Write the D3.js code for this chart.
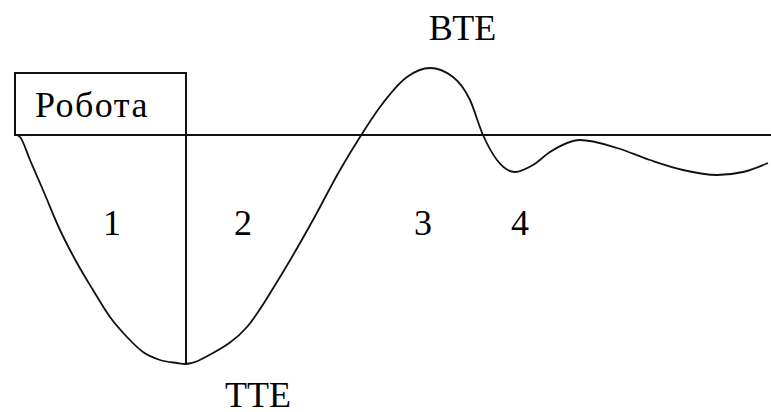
<!DOCTYPE html>
<html>
<head>
<meta charset="utf-8">
<script src="https://cdn.jsdelivr.net/npm/d3@7"></script>
<style>
@font-face { font-family: "SerifLocal"; src: local("Liberation Serif"), local("LiberationSerif-Regular"), local("LiberationSerif"); }
</style>
</head>
<body style="margin:0">
<svg id="chart" width="771" height="412"></svg>
<script>
// Curve: time position (t) and amplitude above the baseline (a)
const curveT = [17, 20, 30, 43, 60, 77, 93, 110, 127, 143, 160, 177, 185, 213, 247, 280, 313, 340, 360, 380, 407, 430, 453, 470, 483, 497, 515, 533, 550, 580, 617, 650, 683, 717, 743, 768];
const curveA = [0, -2, -25, -55, -95, -128, -155, -182, -202, -217, -225, -228, -229, -218, -192, -142, -85, -35, -2, 28, 58, 67, 58, 35, 0, -25, -37, -30, -17, -5, -13, -25, -35, -40, -37, -28];

// Labels
const boxLabel = "Робота";
const phaseLabels = ["1", "2", "3", "4"];
const phaseT = [112, 243, 423, 520];
const peakLabel = "ВТЕ";
const troughLabel = "ТТЕ";

// Scales (pixel units along each axis)
const x = d3.scaleLinear().domain([0, 771]).range([0, 771]);
const y = d3.scaleLinear().domain([0, 100]).range([135, 35]);

const svg = d3.select("#chart");

// Text labels: [text, x, y, anchor, letter-spacing]
const labels = [
  [boxLabel, 35, 117, "start", 1.3],
  ...phaseLabels.map((d, i) => [d, phaseT[i], 235, "middle", 0]),
  [peakLabel, 462.5, 40, "middle", 0],
  [troughLabel, 258, 407, "middle", 0]
];

svg.selectAll("text").data(labels).join("text")
  .attr("transform", d => `translate(${x(d[1])},${d[2]}) scale(1.125)`)
  .attr("text-anchor", d => d[3])
  .attr("font-size", 32)
  .style("font-family", `"Liberation Serif", "SerifLocal", "Tinos", "Times New Roman", serif`)
  .style("letter-spacing", d => d[4] + "px")
  .text(d => d[0]);

// Baseline
svg.append("line")
  .attr("x1", x(15)).attr("x2", x(771))
  .attr("y1", y(0)).attr("y2", y(0))
  .attr("stroke", "#111").attr("stroke-width", 2);

// Box "Робота"
svg.append("rect")
  .attr("x", x(15)).attr("y", y(62))
  .attr("width", x(186) - x(15)).attr("height", y(0) - y(62))
  .attr("fill", "none").attr("stroke", "#111").attr("stroke-width", 2);

// Vertical line at the trough
svg.append("line")
  .attr("x1", x(186)).attr("x2", x(186))
  .attr("y1", y(0)).attr("y2", y(-230))
  .attr("stroke", "#111").attr("stroke-width", 2);

// Curve
const pts = curveT.map((t, i) => [t, curveA[i]]);
const line = d3.line()
  .x(d => x(d[0]))
  .y(d => y(d[1]))
  .curve(d3.curveMonotoneX);

svg.append("path")
  .datum(pts)
  .attr("d", line)
  .attr("fill", "none")
  .attr("stroke", "#111")
  .attr("stroke-width", 1.8);
</script>
</body>
</html>
